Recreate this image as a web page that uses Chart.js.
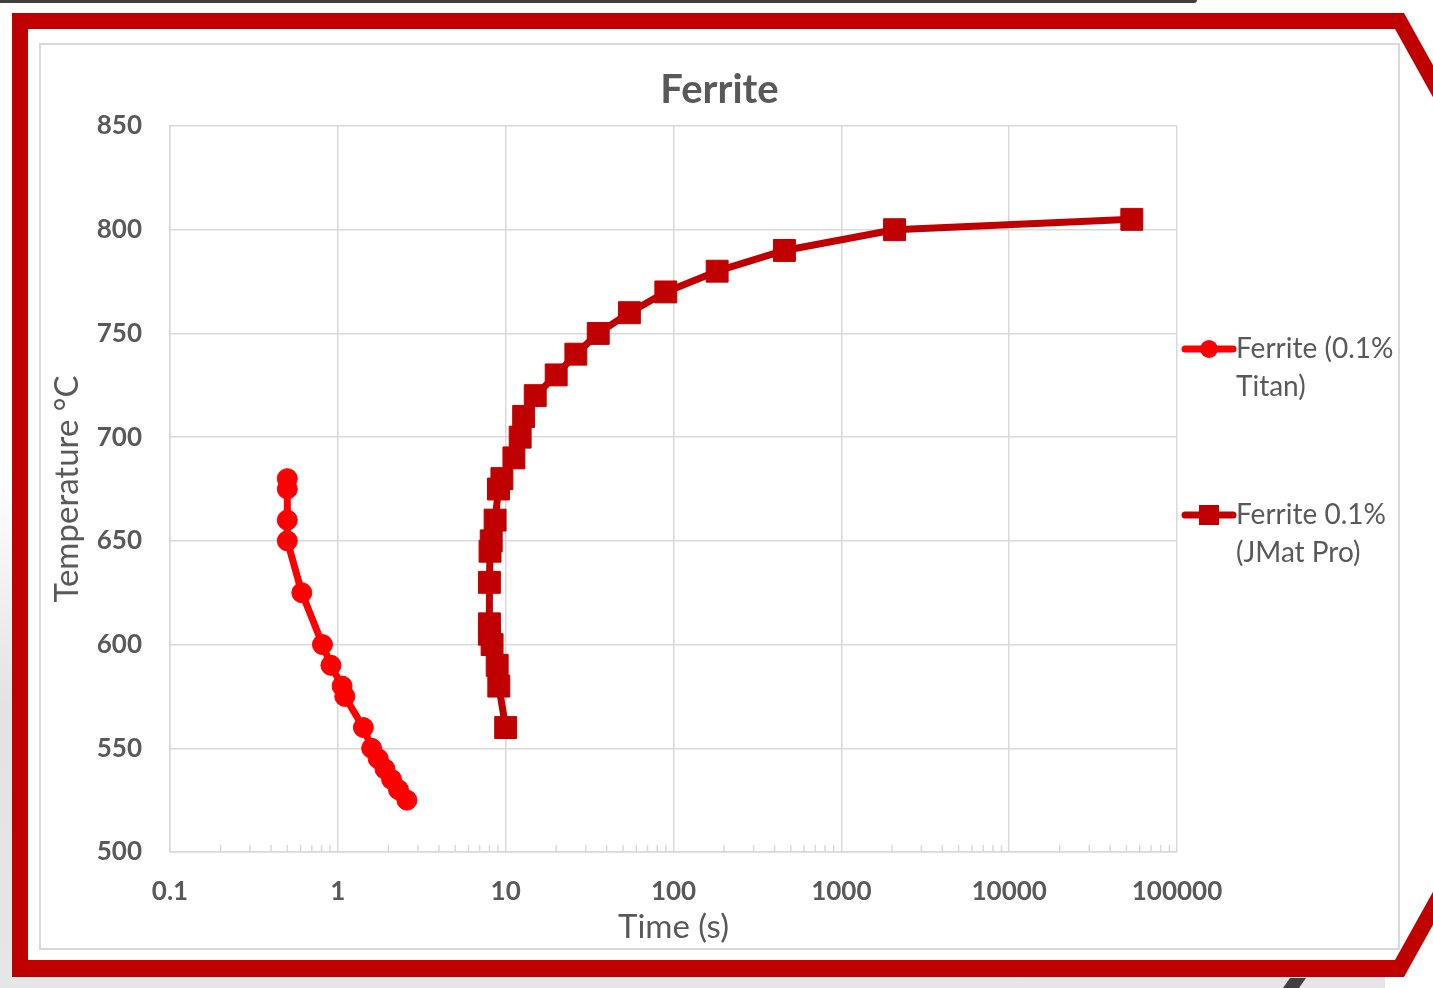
<!DOCTYPE html>
<html>
<head>
<meta charset="utf-8">
<title>Ferrite</title>
<script src="https://cdn.jsdelivr.net/npm/chart.js@4.4.0/dist/chart.umd.min.js"></script>
<style>
  html, body { margin: 0; padding: 0; }
  body { width: 1433px; height: 988px; position: relative; overflow: hidden; background: #fff; }
  #shade { position: absolute; left: 0; top: 470px; width: 1385px; height: 518px;
    background: linear-gradient(to bottom, rgba(228,228,228,0) 0%, #e3e3e3 45%, #e6e6e6 100%); }
  #topbar { position: absolute; left: 0; top: 0; width: 1197px; height: 3px; background: #3f3f3f; border-bottom-right-radius: 3px; }
  #frame { position: absolute; left: 0; top: 0; }
  #box { position: absolute; left: 39px; top: 43px; width: 1357px; height: 903px; border: 2px solid #d9d9d9; background: #fff; }
  canvas { display: block; }
</style>
</head>
<body>
<div id="shade"></div>
<div id="topbar"></div>
<svg id="frame" width="1433" height="988">
  <path d="M28,29 H1395 L1654,495 L1395,960 H28 Z" fill="#fff"/>
  <path d="M12,13 H1404 L1672,495 L1404,977 H12 Z M28,29 V960 H1395 L1654,495 L1395,29 Z" fill="#c00000" fill-rule="evenodd"/>
  <polygon points="1290,978 1306,978 1299,988 1283,988" fill="#404040"/>
</svg>
<div id="box"><canvas id="chart" width="1357" height="903"></canvas></div>

<script>
// ---- data ----
var xTicks = [0.1, 1, 10, 100, 1000, 10000, 100000];
var yTicks = [500, 550, 600, 650, 700, 750, 800, 850];

var seriesNames = [["Ferrite (0.1%", "Titan)"], ["Ferrite 0.1%", "(JMat Pro)"]];

var titanTime = [0.5, 0.5, 0.5, 0.5, 0.61, 0.81, 0.91, 1.06, 1.10, 1.42, 1.59, 1.74, 1.91, 2.09, 2.30, 2.58];
var titanTemp = [680, 675, 660, 650, 625, 600, 590, 580, 575, 560, 550, 545, 540, 535, 530, 525];

var jmatTime = [10, 9.1, 8.9, 8.3, 8.0, 8.0, 8.0, 8.07, 8.2, 8.65, 9.06, 9.5, 11.2, 12.2, 12.8, 15, 20, 26.2, 35.6, 54.6, 90, 182, 458, 2075, 53800];
var jmatTemp = [560, 580, 590, 600, 605, 610, 630, 645, 650, 660, 675, 680, 690, 700, 710, 720, 730, 740, 750, 760, 770, 780, 790, 800, 805];

function pairs(xs, ys) {
    return xs.map(function (x, i) { return { x: x, y: ys[i] }; });
}

var grey = "#595959";
var gridGrey = "#d9d9d9";

/* =================================================================
    Minor log ticks (inside, along the bottom)
================================================================= */
var minorTicks = {
    id: "minorTicks",
    beforeDatasetsDraw: function (chart) {
        var xs = chart.scales.x, bottom = chart.chartArea.bottom, ctx = chart.ctx;
        ctx.save();
        ctx.strokeStyle = gridGrey;
        ctx.lineWidth = 1.5;
        for (var i = 0; i < xTicks.length - 1; i++) {
            for (var k = 2; k <= 9; k++) {
                var px = xs.getPixelForValue(xTicks[i] * k);
                ctx.beginPath();
                ctx.moveTo(px, bottom);
                ctx.lineTo(px, bottom - 7);
                ctx.stroke();
            }
        }
        ctx.restore();
    }
};

/* =================================================================
    Legend on the right, two-line labels
================================================================= */
var sideLegend = {
    id: "sideLegend",
    afterDraw: function (chart, args, opts) {
        var ctx = chart.ctx;
        chart.data.datasets.forEach(function (ds, i) {
            var y = opts.top + i * opts.gap;
            var x0 = chart.chartArea.right + 8, x1 = x0 + 48, xm = (x0 + x1) / 2;
            ctx.save();
            ctx.strokeStyle = ds.borderColor;
            ctx.fillStyle = ds.borderColor;
            ctx.lineWidth = 7;
            ctx.lineCap = "round";
            ctx.beginPath();
            ctx.moveTo(x0, y);
            ctx.lineTo(x1, y);
            ctx.stroke();
            if (ds.pointStyle === "rect") {
                ctx.fillRect(xm - 10, y - 10, 20, 20);
            } else {
                ctx.beginPath();
                ctx.arc(xm, y, 9, 0, Math.PI * 2);
                ctx.fill();
            }
            ctx.fillStyle = grey;
            ctx.font = "28px Lato";
            ctx.textBaseline = "middle";
            ctx.textAlign = "left";
            seriesNames[i].forEach(function (line, j) {
                ctx.fillText(line, x1 + 3, y + j * opts.lineHeight);
            });
            ctx.restore();
        });
    }
};

var ctx = document.getElementById("chart");

var data = {
    datasets: [
        {
            label: seriesNames[0].join(" "),
            data: pairs(titanTime, titanTemp),
            showLine: true,
            borderColor: "#ff0000",
            backgroundColor: "#ff0000",
            borderWidth: 7,
            borderJoinStyle: "round",
            borderCapStyle: "round",
            pointStyle: "circle",
            pointRadius: 10,
            pointHoverRadius: 10,
            pointBorderWidth: 1,
            pointBorderColor: "#ff0000",
            pointBackgroundColor: "#ff0000"
        },
        {
            label: seriesNames[1].join(" "),
            data: pairs(jmatTime, jmatTemp),
            showLine: true,
            borderColor: "#c00000",
            backgroundColor: "#c00000",
            borderWidth: 7,
            borderJoinStyle: "round",
            borderCapStyle: "round",
            pointStyle: "rect",
            pointRadius: 15.5,
            pointHoverRadius: 15.5,
            pointBorderWidth: 1,
            pointBorderColor: "#c00000",
            pointBackgroundColor: "#c00000"
        }
    ]
};

var myChart = new Chart(ctx, {
    type: "scatter",
    data: data,
    plugins: [minorTicks, sideLegend],
    options: {
        responsive: false,
        animation: false,
        layout: { padding: { left: 0, right: 0, top: 0, bottom: 1 } },
        plugins: {
            legend: { display: false },
            tooltip: { enabled: false },
            title: {
                display: true,
                text: "Ferrite",
                color: grey,
                font: { family: "Lato", size: 40, weight: "bold" },
                padding: { top: 21, bottom: 12 }
            },
            sideLegend: { top: 304, gap: 166, lineHeight: 38 }
        },
        scales: {
            x: {
                type: "logarithmic",
                min: 0.1,
                max: 100000,
                afterBuildTicks: function (s) { s.ticks = xTicks.map(function (v) { return { value: v }; }); },
                afterFit: function (s) { s.height = 95; },
                grid: { color: gridGrey, lineWidth: 1.5, drawTicks: false },
                border: { color: gridGrey, width: 1.5 },
                ticks: {
                    padding: 24,
                    color: grey,
                    autoSkip: false,
                    maxRotation: 0,
                    font: { family: "Lato", size: 26, weight: "bold" },
                    callback: function (v) { return String(v); }
                },
                title: {
                    display: true,
                    text: "Time (s)",
                    color: grey,
                    font: { family: "Lato", size: 33 },
                    padding: { top: 0, bottom: 0 }
                }
            },
            y: {
                min: 500,
                max: 850,
                afterBuildTicks: function (s) { s.ticks = yTicks.map(function (v) { return { value: v }; }); },
                afterFit: function (s) { s.width = 129; },
                grid: { color: gridGrey, lineWidth: 1.5, drawTicks: false },
                border: { color: gridGrey, width: 1.5 },
                ticks: {
                    padding: 28,
                    color: grey,
                    font: { family: "Lato", size: 26, weight: "bold" }
                },
                title: {
                    display: true,
                    text: "Temperature °C",
                    color: grey,
                    font: { family: "Lato", size: 33 },
                    padding: { top: 7, bottom: 0 }
                }
            },
            // empty box on the right that keeps room for the legend
            legendSpace: {
                position: "right",
                display: true,
                afterFit: function (s) { s.width = 221; },
                grid: { display: false, drawTicks: false },
                border: { display: false },
                ticks: { display: false },
                title: { display: false }
            }
        }
    }
});
</script>
</body>
</html>
